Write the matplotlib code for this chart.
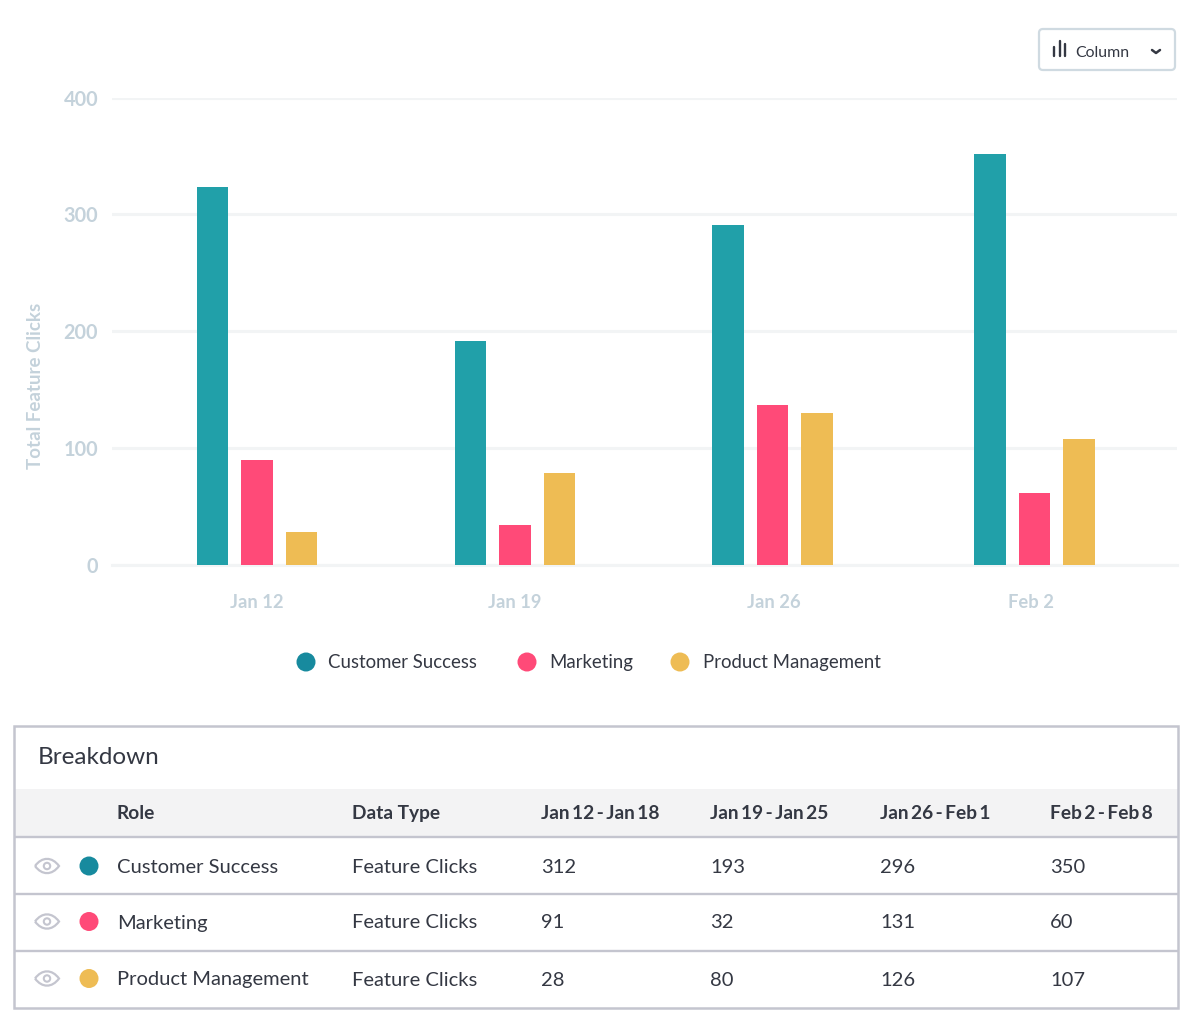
import numpy as np
import matplotlib.pyplot as plt
from matplotlib.patches import Circle, FancyBboxPatch, Rectangle, PathPatch
from matplotlib.path import Path

plt.rcParams['font.family'] = ['Lato', 'DejaVu Sans']

weeks = ['Jan 12', 'Jan 19', 'Jan 26', 'Feb 2']
roles = ['Customer Success', 'Marketing', 'Product Management']
customer_success = [323, 192, 291, 352]
marketing = [90, 34, 137, 62]
product_management = [28, 79, 130, 108]
y_ticks = [0, 100, 200, 300, 400]

table_columns = ['Role', 'Data Type', 'Jan\u200912\u2009-\u2009Jan\u200918', 'Jan\u200919\u2009-\u2009Jan\u200925',
                 'Jan\u200926\u2009-\u2009Feb\u20091', 'Feb\u20092\u2009-\u2009Feb\u20098']
table_customer = ['312', '193', '296', '350']
table_marketing = ['91', '32', '131', '60']
table_product = ['28', '80', '126', '107']

BAR_COLORS = ['#21A0A9', '#FF4A78', '#EEBC54']
DOT_COLORS = ['#178A9E', '#FF4A78', '#EEBC54']
TEXT = '#343843'
TICK = '#C4D2DB'
GRID = '#F2F4F5'
BORDER = '#C4C5CF'

W, H = 1201, 1030
fig = plt.figure(figsize=(W / 100, H / 100), dpi=100, facecolor='white')

# overlay in pixel coordinates for the table and the controls
ui = fig.add_axes([0, 0, 1, 1])
ui.set_xlim(0, W)
ui.set_ylim(H, 0)
ui.axis('off')

# chart axes: x 112..1177 px, y 565..98 px
ax = fig.add_axes([112 / W, 1 - 565 / H, (1177 - 112) / W, (565 - 97.5) / H])
ax.patch.set_alpha(0)
px = 258.0  # one group step in pixels
x0 = (257 - 112) / px
ax.set_xlim(-x0, (1177 - 112) / px - x0)
ax.set_ylim(0, 400)

x = np.arange(len(weeks), dtype=float)
x[2] -= 0.002
x[3] += 0.014
offset = 44.5 / px
bar_w = 31.5 / px
for i, vals in enumerate([customer_success, marketing, product_management]):
    ax.bar(x + (i - 1) * offset, vals, width=bar_w, color=BAR_COLORS[i], zorder=3)

for s in ax.spines.values():
    s.set_visible(False)
ax.grid(axis='y', color=GRID, lw=2.2, zorder=0)
ax.axhline(0, color=GRID, lw=2.2, zorder=1, clip_on=False)
ax.set_yticks(y_ticks, [str(t) for t in y_ticks], color=TICK, fontsize=14.3, fontweight='bold')
ax.tick_params(length=0)
ax.tick_params(axis='y', pad=10)
ax.set_xticks(np.arange(len(weeks)) + np.array([0, 0, 0.004, 0.0]), weeks, color=TICK, fontsize=13.2, fontweight='bold')
ax.tick_params(axis='x', pad=21)
ui.text(36, 385.5, 'Total Feature Clicks', rotation=90, color=TICK, fontsize=13.5, fontweight='bold',
        ha='center', va='center')

# legend
for lx, tx, name, c in zip([306, 527, 680], [328, 549.5, 703], roles, DOT_COLORS):
    ui.add_patch(Circle((lx, 662), 9.5, color=c, lw=0))
    ui.text(tx, 668, name, color=TEXT, fontsize=13.4, va='baseline')

# column dropdown
ui.add_patch(FancyBboxPatch((1039, 29), 136, 41, boxstyle='round,pad=0,rounding_size=4',
                            fc='white', ec='#CFDAE1', lw=1.6))
for bx, top in zip([1054, 1060, 1065], [47, 41, 44]):
    ui.plot([bx, bx], [top, 56], color=TEXT, lw=1.7, solid_capstyle='round')
ui.text(1075, 57, 'Column', color=TEXT, fontsize=11.4, va='baseline')
ui.plot([1152, 1156, 1160], [50, 53, 50], color=TEXT, lw=1.8, solid_capstyle='round')

# breakdown table
ui.add_patch(Rectangle((14, 789), 1164, 48, fc='#F3F3F4', ec='none'))
ui.add_patch(Rectangle((14, 726), 1164, 282, fc='none', ec=BORDER, lw=1.8))
for ly in [837, 893.5, 950.5]:
    ui.plot([14, 1178], [ly, ly], color=BORDER, lw=1.7, solid_capstyle='butt')
ui.text(38, 764, 'Breakdown', color=TEXT, fontsize=17.5, va='baseline')

col_x = [117, 352, 541, 710, 880, 1050]
for cx, label in zip(col_x, table_columns):
    ui.text(cx, 819, label, color=TEXT, fontsize=13.8, fontweight='bold', va='baseline')

# eye icon outline: two arcs meeting at the corners
eye_verts = [(-12, 0), (-5, -9.5), (5, -9.5), (12, 0), (5, 9.5), (-5, 9.5), (-12, 0)]
eye_codes = [Path.MOVETO, Path.CURVE4, Path.CURVE4, Path.CURVE4, Path.CURVE4, Path.CURVE4, Path.CURVE4]
rows = [table_customer, table_marketing, table_product]
for ry, name, c, vals in zip([866, 921.5, 978.5], roles, DOT_COLORS, rows):
    verts = [(47 + vx, ry + vy) for vx, vy in eye_verts]
    ui.add_patch(PathPatch(Path(verts, eye_codes), fc='none', ec=BORDER, lw=1.6))
    ui.add_patch(Circle((47, ry), 3.2, fc='none', ec=BORDER, lw=1.5))
    ui.add_patch(Circle((89, ry), 9.5, color=c, lw=0))
    ui.text(117, ry + 7, name, color=TEXT, fontsize=14.5, va='baseline')
    ui.text(352, ry + 7, 'Feature Clicks', color=TEXT, fontsize=14.5, va='baseline')
    for cx, v in zip(col_x[2:], vals):
        ui.text(cx, ry + 7, v, color=TEXT, fontsize=14.5, va='baseline')

fig.savefig('out.png', dpi=100, facecolor='white')
